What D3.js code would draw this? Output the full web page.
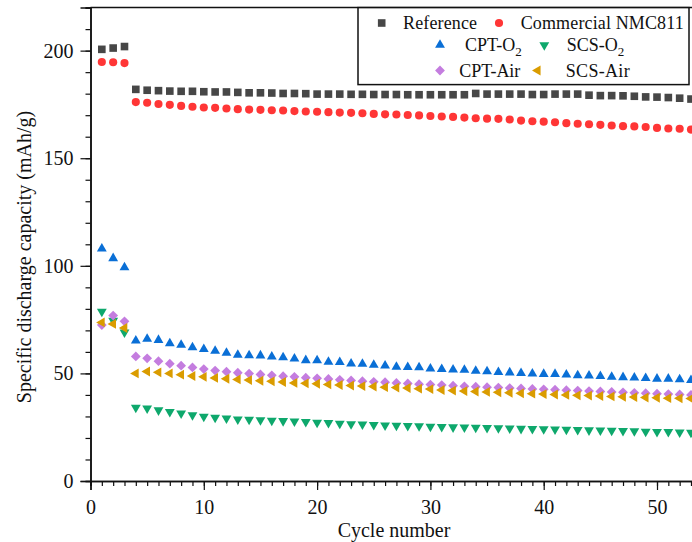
<!DOCTYPE html>
<html><head><meta charset="utf-8">
<script src="https://cdn.jsdelivr.net/npm/d3@7/dist/d3.min.js"></script>
<style>body{margin:0;background:#fff}svg{display:block}text{font-family:"Liberation Serif","Times New Roman",serif;fill:#111}</style>
</head><body><svg id="c" width="692" height="542"></svg>
<script>
const cycles = d3.range(1, 54);
const referenceVals = [200.6,201.2,201.9,182.0,181.6,181.4,181.2,181.1,181.1,180.9,180.8,180.8,180.6,180.4,180.4,180.3,180.1,180.1,180.0,179.8,179.8,179.8,179.7,179.7,179.6,179.6,179.6,179.5,179.5,179.5,179.5,179.5,179.5,180.1,179.8,179.8,179.8,179.8,179.6,179.6,179.8,179.8,179.8,179.3,179.1,179.1,179.0,178.8,178.5,178.4,178.2,177.9,177.5];
const commercialVals = [194.7,194.6,194.2,176.1,175.8,175.2,174.8,174.3,173.9,173.6,173.4,173.1,172.8,172.6,172.5,172.3,172.2,171.9,171.7,171.6,171.4,171.2,171.1,170.9,170.6,170.4,170.3,170.1,169.9,169.6,169.4,169.2,168.9,168.6,168.4,168.3,168.0,167.5,167.2,167.0,166.7,166.3,166.0,165.8,165.5,165.2,164.9,164.8,164.5,164.1,163.8,163.7,163.3];
const cptO2Vals = [108.0,103.5,99.3,65.2,66.0,65.5,63.9,63.2,62.1,61.3,60.5,59.5,58.6,58.4,58.3,57.8,57.4,56.8,56.1,56.0,55.3,55.2,54.5,54.4,53.9,53.6,53.0,52.9,52.8,52.2,52.0,51.7,51.6,51.2,50.9,50.6,50.4,50.1,49.9,49.7,49.7,49.4,49.1,48.9,48.7,48.4,48.2,48.0,47.8,47.5,47.5,47.2,46.9];
const scsO2Vals = [78.7,74.5,69.1,34.1,33.8,32.9,32.1,31.4,30.6,29.9,29.5,29.1,28.7,28.5,28.3,28.1,27.9,27.7,27.5,27.2,27.0,26.7,26.5,26.3,26.1,25.9,25.8,25.6,25.5,25.3,25.2,25.0,24.9,24.8,24.7,24.6,24.5,24.3,24.2,24.1,24.0,23.9,23.8,23.6,23.5,23.4,23.3,23.2,23.0,22.9,22.8,22.6,22.5];
const cptAirVals = [72.5,76.9,74.2,57.9,57.0,55.7,54.5,53.6,52.8,52.0,51.3,50.8,50.3,49.9,49.5,49.1,48.7,48.4,48.0,47.7,47.4,47.0,46.7,46.4,46.1,45.9,45.6,45.3,45.0,44.8,44.6,44.3,44.0,43.8,43.6,43.4,43.2,43.0,42.8,42.6,42.4,42.2,42.0,41.8,41.6,41.4,41.2,41.0,40.8,40.6,40.4,40.2,40.0];
const scsAirVals = [73.7,73.0,71.1,50.0,50.9,50.5,50.0,49.4,48.8,48.4,47.9,47.5,47.2,46.9,46.6,46.3,46.0,45.6,45.4,45.2,44.9,44.6,44.4,44.1,43.9,43.6,43.4,43.2,42.9,42.7,42.3,42.0,41.8,41.6,41.4,41.2,41.0,40.8,40.6,40.4,40.2,40.0,39.8,39.7,39.5,39.3,39.1,39.0,38.8,38.7,38.5,38.4,38.3];
const xTicks = [0,10,20,30,40,50];
const yTicks = [0,50,100,150,200];

const series = [
  {name:"Reference", sub:null, vals:referenceVals, color:"#474747", sym:d3.symbolSquare, size:58, rot:0},
  {name:"Commercial NMC811", sub:null, vals:commercialVals, color:"#ff3636", sym:d3.symbolCircle, size:52, rot:0},
  {name:"CPT-O", sub:"2", vals:cptO2Vals, color:"#0a6fd6", sym:d3.symbolTriangle, size:42, rot:0},
  {name:"SCS-O", sub:"2", vals:scsO2Vals, color:"#0ea86c", sym:d3.symbolTriangle, size:42, rot:180},
  {name:"CPT-Air", sub:null, vals:cptAirVals, color:"#c47ddf", sym:d3.symbolSquare, size:48, rot:45},
  {name:"SCS-Air", sub:null, vals:scsAirVals, color:"#da9c00", sym:d3.symbolTriangle, size:42, rot:-90}
];

const svg = d3.select("#c");
const x0 = 90.5, yBase = 481, yTop = 7.6;
const x = d3.scaleLinear().domain([0,55]).range([x0, x0 + 55*11.33]);
const y = d3.scaleLinear().domain([0,220]).range([yBase, yTop]);

const gx = svg.append("g").attr("transform",`translate(0,${yBase})`);
gx.call(d3.axisBottom(x).tickValues(d3.range(0,56,1)).tickSize(5).tickFormat(""));
gx.append("g").call(d3.axisBottom(x).tickValues(xTicks).tickSize(9).tickPadding(10).tickFormat(d3.format("d")));
gx.selectAll("path.domain").attr("stroke","#111").attr("stroke-width",1.5);
gx.selectAll(".tick line").attr("stroke","#111").attr("stroke-width",1.2);
gx.selectAll("text").style("font-size","20px").attr("fill","#111").style("font-family","Liberation Serif");

const gy = svg.append("g").attr("transform",`translate(${x0},0)`);
gy.call(d3.axisLeft(y).tickValues(d3.range(0,221,10)).tickSize(5).tickFormat(""));
gy.append("g").call(d3.axisLeft(y).tickValues(yTicks).tickSize(10).tickPadding(7).tickFormat(d3.format("d")));
gy.selectAll("path.domain").attr("stroke","#111").attr("stroke-width",1.5);
gy.selectAll(".tick line").attr("stroke","#111").attr("stroke-width",1.2);
gy.selectAll("text").style("font-size","20px").attr("fill","#111").style("font-family","Liberation Serif");

svg.append("line").attr("x1",x0).attr("x2",692).attr("y1",yTop).attr("y2",yTop).attr("stroke","#111").attr("stroke-width",1.5);

svg.append("text").attr("x",394).attr("y",537).attr("text-anchor","middle").style("font-size","20px").text("Cycle number");
svg.append("text").attr("transform",`translate(31,${257}) rotate(-90)`).attr("text-anchor","middle").style("font-size","20px").text("Specific discharge capacity (mAh/g)");

const plot = svg.append("g");
series.forEach(s => {
  const path = d3.symbol().type(s.sym).size(s.size)();
  plot.append("g").selectAll("path").data(cycles.map((c,i)=>({c, v:s.vals[i]}))).join("path")
    .attr("d", path)
    .attr("transform", d => `translate(${x(d.c)},${y(d.v)}) rotate(${s.rot})`)
    .attr("fill", s.color);
});

const lg = svg.append("g");
lg.append("rect").attr("x",358).attr("y",yTop).attr("width",331).attr("height",77).attr("fill","#fff").attr("stroke","#111").attr("stroke-width",1.5);
const legendPos = [
  {mx:381.7, my:23, tx:403, ty:29, w:74},
  {mx:499, my:23, tx:520.7, ty:29, w:163},
  {mx:440, my:45, tx:465, ty:51, w:0},
  {mx:544.3, my:45, tx:566.7, ty:51, w:0},
  {mx:440, my:70.5, tx:459.3, ty:77, w:61},
  {mx:537.7, my:70.5, tx:565.7, ty:77, w:64}
];
series.forEach((s,i) => {
  const p = legendPos[i];
  lg.append("path").attr("d", d3.symbol().type(s.sym).size(s.size)())
    .attr("transform",`translate(${p.mx},${p.my}) rotate(${s.rot})`).attr("fill", s.color);
  const t = lg.append("text").attr("x",p.tx).attr("y",p.ty).style("font-size","18px");
  t.append("tspan").text(s.name);
  if (s.sub) t.append("tspan").attr("dy",5).style("font-size","13px").text(s.sub);
  if (p.w) t.attr("textLength", p.w).attr("lengthAdjust","spacing");
});
</script></body></html>
